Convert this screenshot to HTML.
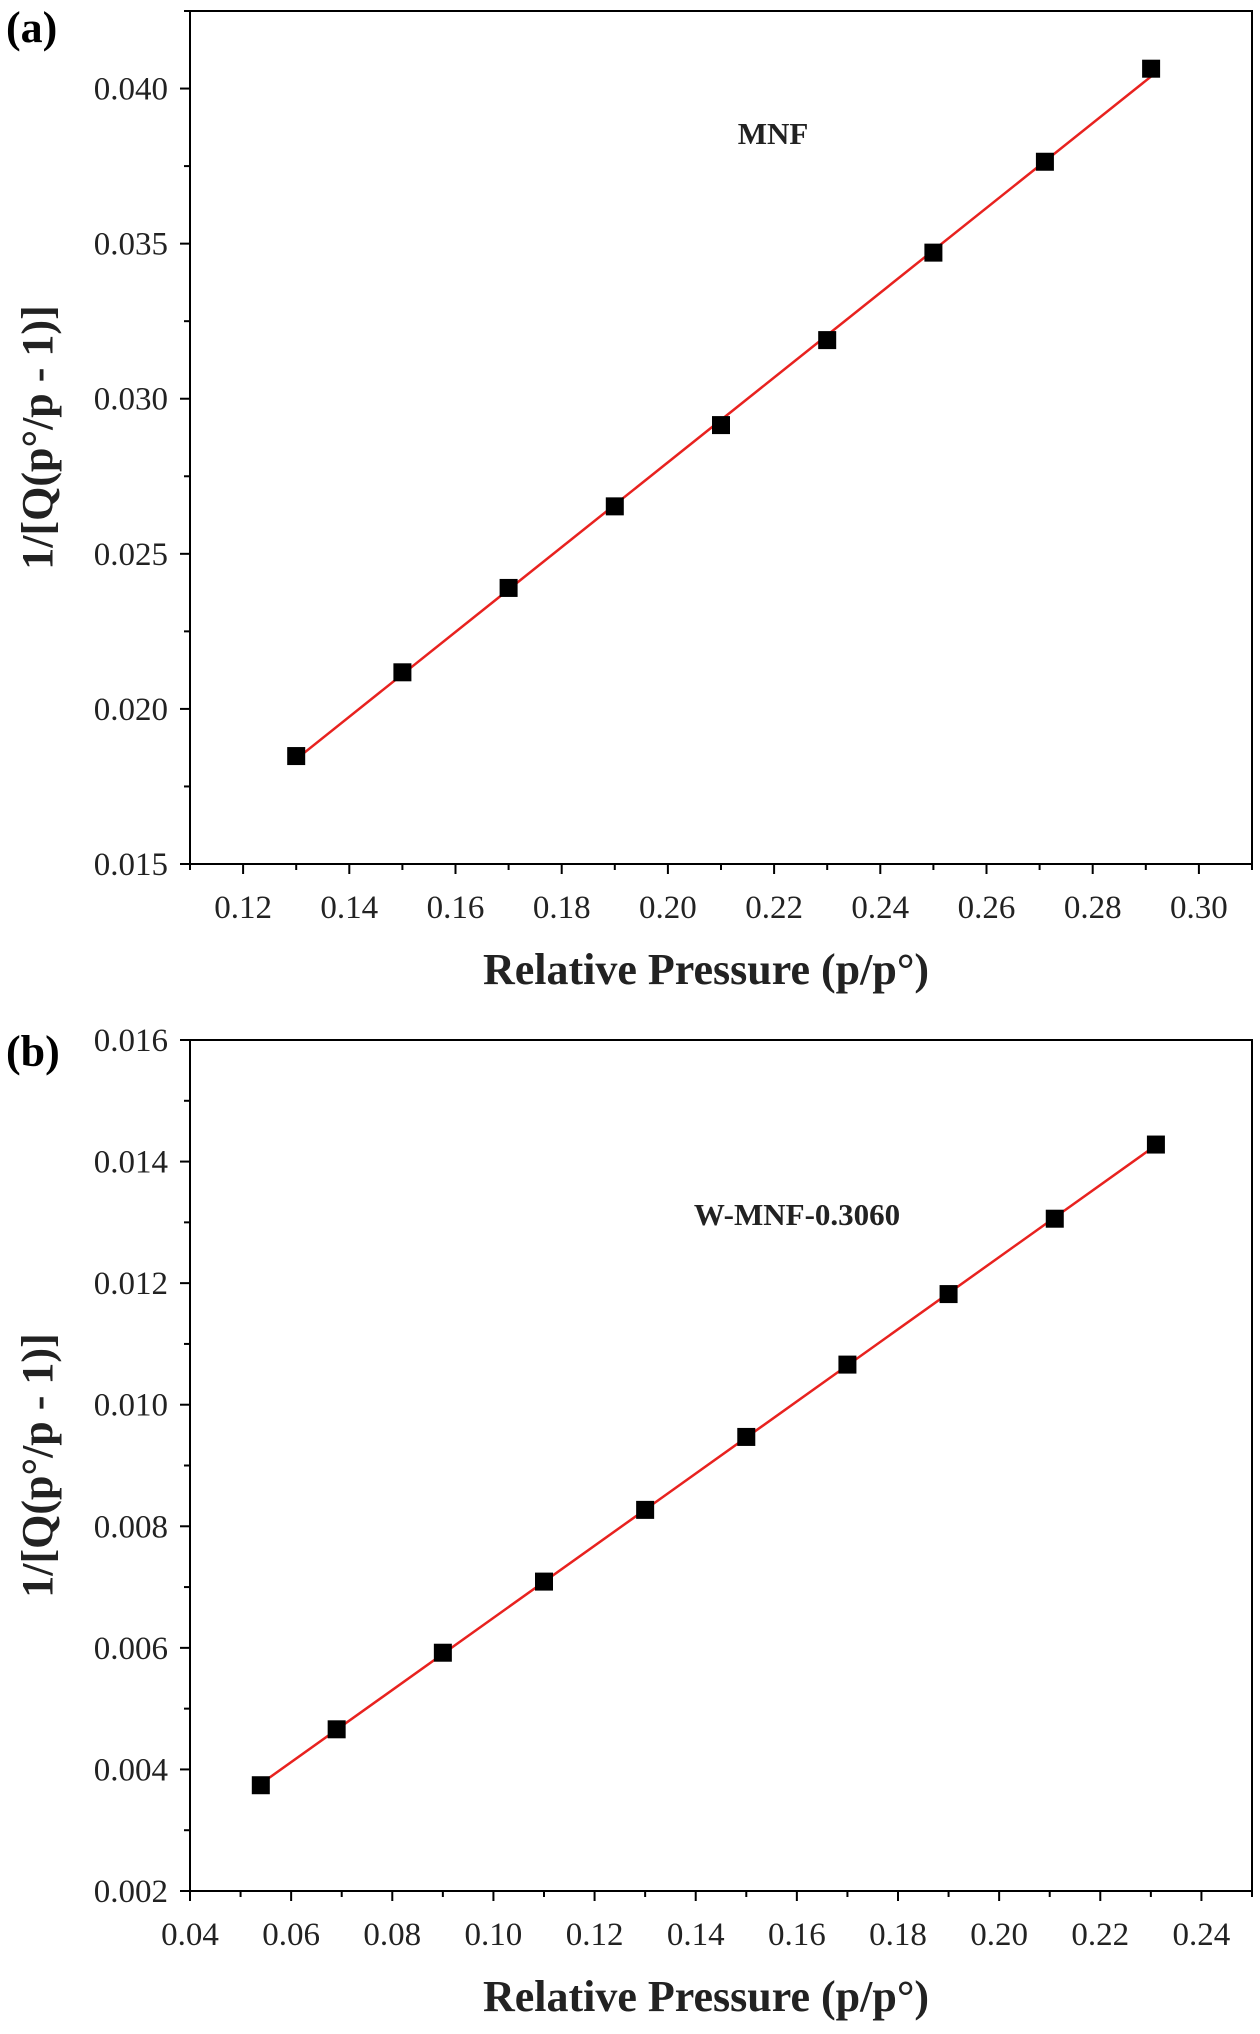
<!DOCTYPE html>
<html><head><meta charset="utf-8"><style>
body{margin:0;background:#fff}
svg{display:block;font-family:"Liberation Serif",serif}
</style></head><body>
<svg id="s" width="1260" height="2034" viewBox="0 0 1260 2034"></svg>
<script>
const aX=[0.13,0.15,0.17,0.19,0.21,0.23,0.25,0.271,0.291];
const aY=[0.01848,0.02118,0.0239,0.02653,0.02915,0.03189,0.03471,0.03764,0.04064];
const aXTicks=[0.12,0.14,0.16,0.18,0.20,0.22,0.24,0.26,0.28,0.30];
const aYTicks=[0.015,0.020,0.025,0.030,0.035,0.040];
const bX=[0.054,0.069,0.09,0.11,0.13,0.15,0.17,0.19,0.211,0.231];
const bY=[0.00374,0.00466,0.00592,0.00709,0.00827,0.00947,0.01066,0.01182,0.01306,0.01428];
const bXTicks=[0.04,0.06,0.08,0.10,0.12,0.14,0.16,0.18,0.20,0.22,0.24];
const bYTicks=[0.002,0.004,0.006,0.008,0.010,0.012,0.014,0.016];
const NS="http://www.w3.org/2000/svg", S=document.getElementById('s');
function el(t,a,txt){const e=document.createElementNS(NS,t);for(const k in a)e.setAttribute(k,a[k]);if(txt!==undefined)e.textContent=txt;S.appendChild(e);return e;}
function panel(p){
 const sx=v=>p.L+(v-p.x0)/(p.x1-p.x0)*(p.R-p.L);
 const sy=v=>p.B-(v-p.y0)/(p.y1-p.y0)*(p.B-p.T);
 let e=el('rect',{x:p.L,y:p.T,width:p.R-p.L,height:p.B-p.T,fill:'none',stroke:'#000','stroke-width':2});
 
 const xs=p.xt[1]-p.xt[0];
 for(let v=p.xt[0]-xs;v<=p.x1+1e-9;v+=xs/2){if(v<p.x0-1e-9)continue;const major=p.xt.some(t=>Math.abs(t-v)<1e-9);
  e=el('line',{x1:sx(v),x2:sx(v),y1:p.B,y2:p.B+(major?10:6),stroke:'#000','stroke-width':2});}
 p.xt.forEach(v=>{e=el('text',{x:sx(v),y:p.B+54,'font-size':33,'text-anchor':'middle',fill:'#222'},v.toFixed(2));});
 const ys=p.yt[1]-p.yt[0];
 for(let v=p.y0;v<=p.y1+1e-12;v+=ys/2){const major=p.yt.some(t=>Math.abs(t-v)<1e-9);
  e=el('line',{x1:p.L,x2:p.L-(major?10:6),y1:sy(v),y2:sy(v),stroke:'#000','stroke-width':2});}
 p.yt.forEach(v=>{e=el('text',{x:p.L-22,y:sy(v)+11,'font-size':33,'text-anchor':'end',fill:'#222'},v.toFixed(3));});
 const n=p.X.length,mx=p.X.reduce((a,b)=>a+b)/n,my=p.Y.reduce((a,b)=>a+b)/n;
 let num=0,den=0;for(let i=0;i<n;i++){num+=(p.X[i]-mx)*(p.Y[i]-my);den+=(p.X[i]-mx)**2;}
 const m=num/den,c=my-m*mx,xa=p.X[0],xb=p.X[n-1];
 e=el('line',{x1:sx(xa),y1:sy(m*xa+c),x2:sx(xb),y2:sy(m*xb+c),stroke:'#e8221f','stroke-width':2.5});
 
 p.X.forEach((x,i)=>{e=el('rect',{x:sx(x)-9,y:sy(p.Y[i])-9,width:18,height:18,fill:'#000'});});
 e=el('text',{x:p.lx,y:p.ly,'font-size':31,'font-weight':'bold','text-anchor':'middle',fill:'#222'},p.label);
 e=el('text',{x:(p.L+p.R)/2-15,y:p.B+120,'font-size':44,'font-weight':'bold','text-anchor':'middle',fill:'#222'},'Relative Pressure (p/p°)');
 const cy=(p.T+p.B)/2;
 e=el('text',{x:0,y:0,'font-size':44,'font-weight':'bold','text-anchor':'middle',fill:'#222',transform:`translate(52,${cy}) rotate(-90)`},'1/[Q(p°/p - 1)]');
 e=el('text',{x:6,y:p.pl,'font-size':44,'font-weight':'bold',fill:'#000'},p.panel);
}
panel({id:'a',L:190,R:1252,T:11,B:864,x0:0.11,x1:0.31,y0:0.015,y1:0.0425,xt:aXTicks,yt:aYTicks,X:aX,Y:aY,label:'MNF',lx:773,ly:144,panel:'(a)',pl:42});
panel({id:'b',L:190,R:1252,T:1040,B:1891,x0:0.04,x1:0.25,y0:0.002,y1:0.016,xt:bXTicks,yt:bYTicks,X:bX,Y:bY,label:'W-MNF-0.3060',lx:797,ly:1225,panel:'(b)',pl:1066});
</script>
</body></html>
